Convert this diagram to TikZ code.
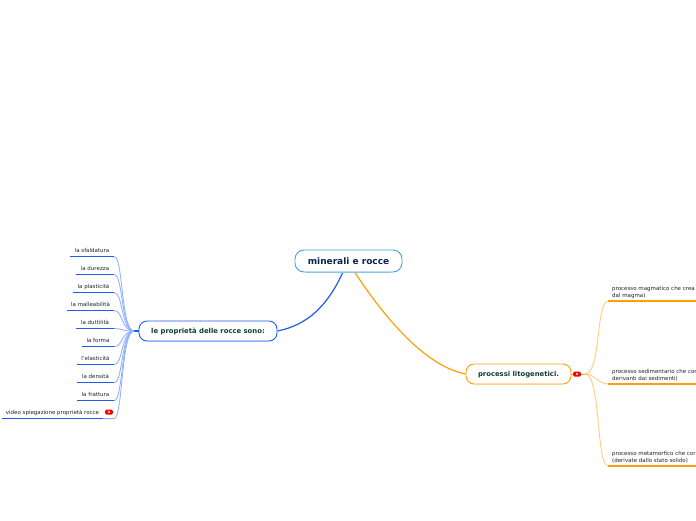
\documentclass[tikz,border=0pt]{standalone}
\usepackage{fontspec}
\setmainfont{DejaVu Sans}
\definecolor{bluemain}{HTML}{1F5CF0}
\definecolor{bluelight}{HTML}{8FB0FF}
\definecolor{orangemain}{HTML}{FF9D0A}
\definecolor{orangelight}{HTML}{FFCF85}
\definecolor{rootedge}{HTML}{4A9FDC}
\definecolor{rootlow}{HTML}{8CC3EA}
\definecolor{roottext}{HTML}{10204F}
\definecolor{subtext}{HTML}{0F3D34}
\definecolor{leaftext}{HTML}{222222}
\definecolor{badgespot}{HTML}{FFB0B0}
\tikzset{
  x=1pt,y=-1pt,
  rootbox/.style={draw=rootedge,line width=0.9pt,rounded corners=9pt,fill=white,minimum width=107pt,minimum height=22pt,inner sep=0pt,text=roottext,font=\fontsize{9}{10}\selectfont\bfseries},
  subbox/.style={draw=#1,line width=0.9pt,rounded corners=8pt,fill=white,minimum height=20pt,inner sep=0pt,text=subtext,text height=5pt,text depth=0.9pt,font=\fontsize{6.85}{8}\selectfont\bfseries},
  leafnode/.style={anchor=south,inner xsep=0pt,inner ysep=3.2pt,text=leaftext,text height=4.4pt,text depth=1pt,font=\fontsize{5.5}{6}\selectfont},
  wideleaf/.style={anchor=south west,inner xsep=4pt,inner ysep=2.6pt,text=leaftext,align=left,font=\fontsize{5.5}{6.9}\selectfont},
  underblue/.style={draw=bluemain,line width=1.5pt},
  underorange/.style={draw=orangemain,line width=1.5pt},
  branchblue/.style={draw=bluelight,line width=0.85pt},
  branchorange/.style={draw=orangelight,line width=0.95pt},
  redbadge/.style={draw=none,fill=red,rounded corners=1.5pt,minimum width=#1,minimum height=5pt,inner sep=0pt},
}
\begin{document}
\begin{tikzpicture}
\fill[white] (0,0) rectangle (696,520);
\useasboundingbox (0,0) rectangle (696,520);
\clip (0,0) rectangle (696,520);
% main nodes
\node[rootbox] (root) at (348.5,261) {minerali e rocce};
\node[subbox=bluemain,minimum width=138pt] (props) at (208,331) {le proprietà delle rocce sono:};
\node[subbox=orangemain,minimum width=105pt] (proc) at (518.5,374) {processi litogenetici.};
\coordinate (rootL) at (343,272);
\coordinate (rootR) at (354.5,272);
\draw[bluemain,line width=1.2pt] (rootL) .. controls (328,305) and (308,325) .. (props.east);
\draw[orangemain,line width=1.2pt] (rootR) .. controls (385,318) and (425,366) .. (proc.west);
\draw[rootlow,line width=0.9pt] (306,272.3) -- (391,272.3);
\draw[bluelight,line width=0.9pt] (148,341.3) -- (268,341.3);
\draw[orangelight,line width=0.9pt] (475,384.3) -- (562,384.3);
% left leaves
\coordinate (lhub) at (134,331);
\draw[bluemain,line width=1.1pt] (lhub) -- (props.west);
\node[leafnode,minimum width=44pt] (l1) at (92,256.6) {la sfaldatura};
\node[leafnode,minimum width=38pt] (l2) at (95,274.6) {la durezza};
\node[leafnode,minimum width=41pt] (l3) at (93.5,292.6) {la plasticità};
\node[leafnode,minimum width=47pt] (l4) at (90.5,310.6) {la malleabilità};
\node[leafnode,minimum width=38pt] (l5) at (95,328.6) {la duttilità};
\node[leafnode,minimum width=32pt] (l6) at (98,346.6) {la forma};
\node[leafnode,minimum width=37pt] (l7) at (95.5,364.6) {l'elasticità};
\node[leafnode,minimum width=37pt] (l8) at (95.5,382.6) {la densità};
\node[leafnode,minimum width=37pt] (l9) at (95.5,400.6) {la frattura};
\node[leafnode,minimum width=101pt] (l10) at (52.5,418.6) {video spiegazione proprietà rocce};
\coordinate (l10end) at (114,418.6);
\node[redbadge=8pt] (b1) at (109,412) {};
\foreach \n in {l1,l2,l3,l4,l5,l6,l7,l8,l9}{
  \draw[underblue] (\n.south west) -- (\n.south east);
  \draw[branchblue] (\n.south east) .. controls +(9,0) and (121,331) .. (lhub);
}
\draw[underblue] (l10.south west) -- (l10.south east);
\draw[branchblue] (l10.south east) -- (l10end) .. controls +(9,0) and (121,331) .. (lhub);
\fill[badgespot] (108,411) rectangle (110,413);
% right leaves
\node[redbadge=8pt] (b2) at (577,374) {};
\fill[badgespot] (576,373) rectangle (578,375);
\coordinate (rhub) at (585,374);
\draw[orangemain,line width=0.9pt] (proc.east) -- (b2.west);
\draw[orangemain,line width=0.9pt] (b2.east) -- (rhub);
\node[wideleaf] (r1) at (608,301) {processo magmatico che crea\\dal magma)};
\node[wideleaf] (r2) at (608,384) {processo sedimentario che cor\\derivanti dai sedimenti)};
\node[wideleaf] (r3) at (608,466) {processo metamorfico che cor\\(derivate dallo stato solido)};
\coordinate (r1e) at (696,301);
\coordinate (r2e) at (696,384);
\coordinate (r3e) at (696,466);
\foreach \n/\e in {r1/r1e,r2/r2e,r3/r3e}{
  \draw[underorange] (\n.south west) -- (\e);
}
\draw[branchorange] (r1.south west) .. controls (596,301) and (601,374) .. (rhub);
\draw[branchorange] (r2.south west) .. controls (598,384) and (595,374) .. (rhub);
\draw[branchorange] (r3.south west) .. controls (596,466) and (601,374) .. (rhub);
\end{tikzpicture}
\end{document}
